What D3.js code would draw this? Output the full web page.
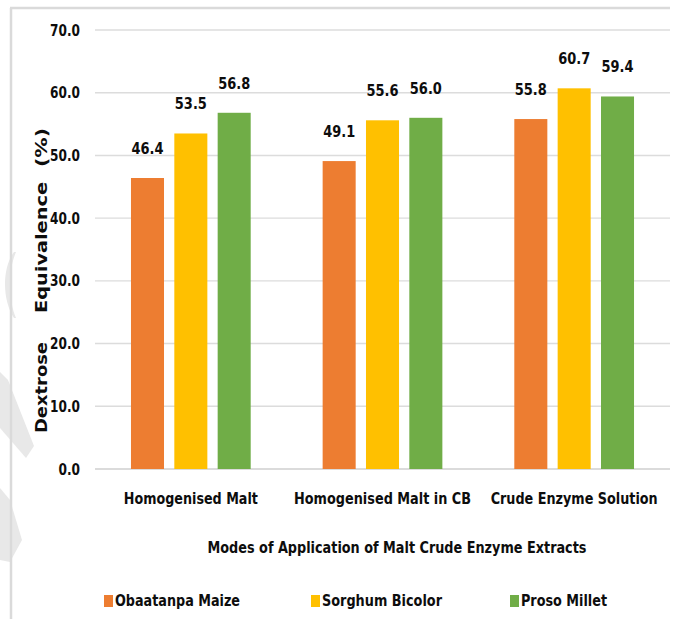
<!DOCTYPE html>
<html>
<head>
<meta charset="utf-8">
<script src="https://cdn.jsdelivr.net/npm/d3@7"></script>
<style>
  html, body { margin: 0; padding: 0; background: #fff; }
  svg { display: block; }
  text { font-family: "DejaVu Sans Condensed", "DejaVu Sans", sans-serif; font-weight: bold; fill: #0d0d0d; }
</style>
</head>
<body>
<svg id="chart" width="673" height="619"></svg>
<script>
// Dextrose equivalence by mode of application and cereal source
const categories = ["Homogenised Malt", "Homogenised Malt in CB", "Crude Enzyme Solution"];
const seriesNames = ["Obaatanpa Maize", "Sorghum Bicolor", "Proso Millet"];
const obaatanpaMaize = [46.4, 49.1, 55.8];
const sorghumBicolor = [53.5, 55.6, 60.7];
const prosoMillet = [56.8, 56.0, 59.4];
const yTicks = [0, 10, 20, 30, 40, 50, 60, 70];
const colors = ["#ED7D31", "#FFC000", "#70AD47"];
const xTitle = "Modes of Application of Malt Crude Enzyme Extracts";
const yTitleWords = ["Dextrose", "Equivalence", "(%)"];

const seriesValues = [obaatanpaMaize, sorghumBicolor, prosoMillet];
const svg = d3.select("#chart");

// width of a short numeric label in the squeezed bold face
const numWidth = (s, digit, dot) => s.split("").reduce((w, c) => w + (c === "." ? dot : digit), 0);

// faint background decoration on the left margin
const deco = svg.append("g").attr("fill", "#e8e8e8");
deco.append("path").attr("d", "M14,252 C2,268 2,300 14,318 L16,318 C8,300 8,270 16,252 Z");
deco.append("path").attr("d", "M0,372 L8,380 L34,446 L26,458 L0,428 Z");
deco.append("path").attr("d", "M0,488 L10,500 L22,540 L10,562 L0,560 Z");

// frame
svg.append("line").attr("x1", 10).attr("x2", 670).attr("y1", 8).attr("y2", 8)
  .attr("stroke", "#dadada").attr("stroke-width", 2.5);
svg.append("line").attr("x1", 11).attr("x2", 11).attr("y1", 8).attr("y2", 619)
  .attr("stroke", "#dadada").attr("stroke-width", 2.5);

const plotLeft = 95, plotRight = 670, plotTop = 30, plotBottom = 469;

const x0 = d3.scaleBand().domain(categories).range([plotLeft, plotRight]);
const x1 = d3.scaleBand().domain(seriesNames).range([0, x0.bandwidth()])
  .paddingInner(0.238).paddingOuter(0.83);
const y = d3.scaleLinear().domain([0, 70]).range([plotBottom, plotTop]);

// gridlines
svg.append("g").selectAll("line").data(yTicks).join("line")
  .attr("x1", plotLeft).attr("x2", plotRight)
  .attr("y1", d => y(d)).attr("y2", d => y(d))
  .attr("stroke", d => d === 0 ? "#cfcfcf" : "#dcdcdc")
  .attr("stroke-width", 1.4);

// y tick labels
svg.append("g").selectAll("text").data(yTicks).join("text")
  .attr("x", 80).attr("y", d => y(d) + 5.5)
  .attr("text-anchor", "end")
  .attr("font-size", 15.5)
  .attr("textLength", d => numWidth(d.toFixed(1), 8.3, 5))
  .attr("lengthAdjust", "spacingAndGlyphs")
  .text(d => d.toFixed(1));

// bars
const groups = svg.append("g").selectAll("g").data(categories).join("g")
  .attr("transform", d => `translate(${x0(d)},0)`);

groups.each(function (cat, ci) {
  const g = d3.select(this);
  const rows = seriesNames.map((s, si) => ({ s, si, v: seriesValues[si][ci] }));
  g.selectAll("rect").data(rows).join("rect")
    .attr("x", d => x1(d.s))
    .attr("width", x1.bandwidth())
    .attr("y", d => y(d.v))
    .attr("height", d => y(0) - y(d.v))
    .attr("fill", d => colors[d.si]);
  g.selectAll("text").data(rows).join("text")
    .attr("x", d => x1(d.s) + x1.bandwidth() / 2)
    .attr("y", d => y(d.v) - 24)
    .attr("text-anchor", "middle")
    .attr("font-size", 15.5)
    .attr("textLength", d => numWidth(d.v.toFixed(1), 9, 5))
    .attr("lengthAdjust", "spacingAndGlyphs")
    .text(d => d.v.toFixed(1));
});

// category labels
const catWidths = [134, 177, 167];
svg.append("g").selectAll("text").data(categories).join("text")
  .attr("x", d => x0(d) + x0.bandwidth() / 2)
  .attr("y", 504)
  .attr("text-anchor", "middle")
  .attr("font-size", 15.5)
  .attr("textLength", (d, i) => catWidths[i])
  .attr("lengthAdjust", "spacingAndGlyphs")
  .text(d => d);

// x axis title
svg.append("text")
  .attr("x", 397).attr("y", 553)
  .attr("text-anchor", "middle")
  .attr("font-size", 15.5)
  .attr("textLength", 379)
  .attr("lengthAdjust", "spacingAndGlyphs")
  .text(xTitle);

// y axis title, one word at a time along the rotated axis
const yWordCenters = [387.5, 247.5, 147.5];
const yWordWidths = [91, 131, 39];
svg.append("g").selectAll("text").data(yTitleWords).join("text")
  .attr("transform", (d, i) => `translate(47,${yWordCenters[i]}) rotate(-90)`)
  .attr("text-anchor", "middle")
  .attr("font-size", 15)
  .attr("textLength", (d, i) => yWordWidths[i])
  .attr("lengthAdjust", "spacingAndGlyphs")
  .text(d => d);

// legend
const legendX = [104, 311, 510];
const legendTextWidths = [125, 120, 86];
const legend = svg.append("g").selectAll("g").data(seriesNames).join("g")
  .attr("transform", (d, i) => `translate(${legendX[i]},0)`);
legend.append("rect")
  .attr("x", 0).attr("y", 595).attr("width", 9).attr("height", 12)
  .attr("fill", (d, i) => colors[i]);
legend.append("text")
  .attr("x", 11).attr("y", 606)
  .attr("font-size", 15.5)
  .attr("textLength", (d, i) => legendTextWidths[i])
  .attr("lengthAdjust", "spacingAndGlyphs")
  .text(d => d);
</script>
</body>
</html>
